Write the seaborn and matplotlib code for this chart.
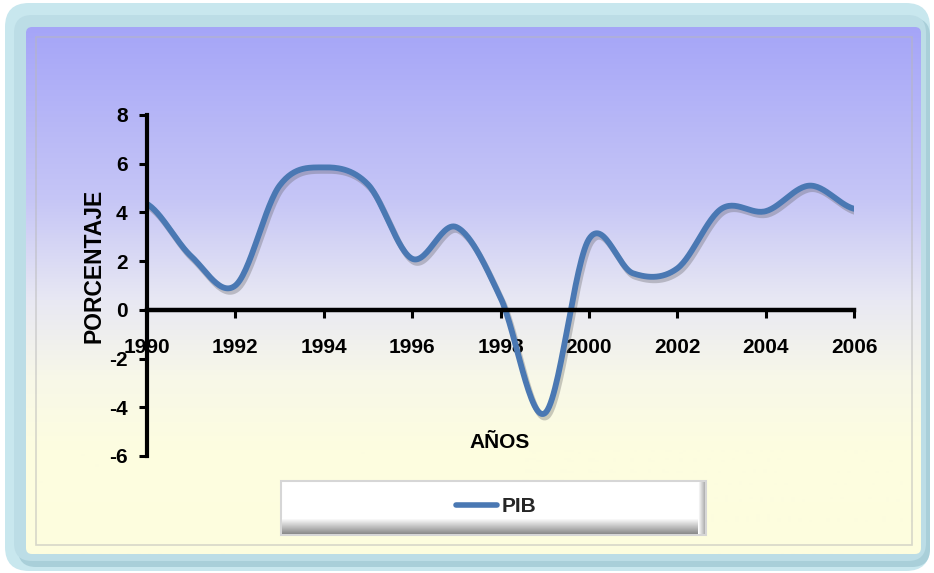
import numpy as np
import pandas as pd
import matplotlib
matplotlib.use("Agg")
import matplotlib.pyplot as plt
import seaborn as sns
from matplotlib.patches import FancyBboxPatch, Rectangle
import matplotlib.patheffects as pe

# ---------------- data ----------------
years = [1990, 1991, 1992, 1993, 1994, 1995, 1996, 1997, 1998,
         1999, 2000, 2001, 2002, 2003, 2004, 2005, 2006]
pib = [4.35, 2.2, 1.0, 5.1, 5.85, 5.15, 2.1, 3.4, 0.5,
       -4.25, 2.9, 1.5, 1.7, 4.15, 4.05, 5.1, 4.15]
series_name = "PIB"
x_ticks = [1990, 1992, 1994, 1996, 1998, 2000, 2002, 2004, 2006]
x_tick_labels = ["1990", "1992", "1994", "1996", "1998", "2000", "2002", "2004", "2006"]
y_ticks = [-6, -4, -2, 0, 2, 4, 6, 8]
y_tick_labels = ["-6", "-4", "-2", "0", "2", "4", "6", "8"]
x_title = "AÑOS"
y_title = "PORCENTAJE"


def smoothed(x, y, n=30):
    """Spreadsheet-style smoothed line (Catmull-Rom) through the data points."""
    x = np.asarray(x, float)
    y = np.asarray(y, float)
    px = np.concatenate([[x[0]], x, [x[-1]]])
    py = np.concatenate([[y[0]], y, [y[-1]]])
    xs, ys = [], []
    for i in range(1, len(px) - 2):
        x0, x1 = px[i], px[i + 1]
        m0 = (py[i + 1] - py[i - 1]) / 2
        m1 = (py[i + 2] - py[i]) / 2
        t = np.linspace(0, 1, n, endpoint=(i == len(px) - 3))
        h00 = 2 * t**3 - 3 * t**2 + 1
        h10 = t**3 - 2 * t**2 + t
        h01 = -2 * t**3 + 3 * t**2
        h11 = t**3 - t**2
        xs.append(x0 + t * (x1 - x0))
        ys.append(h00 * py[i] + h10 * m0 + h01 * py[i + 1] + h11 * m1)
    return np.concatenate(xs), np.concatenate(ys)


sx, sy = smoothed(years, pib)
df = pd.DataFrame({"Año": sx, "Valor": sy, "Serie": series_name})

# ---------------- figure ----------------
sns.set_theme(style="white")
plt.rcParams["font.family"] = ["Liberation Sans", "DejaVu Sans"]
plt.rcParams["font.weight"] = "bold"

W, H = 934, 573
fig = plt.figure(figsize=(W / 100, H / 100), dpi=100)
fig.patch.set_facecolor("white")

# background frame
bg = fig.add_axes([0, 0, 1, 1], zorder=0)
bg.set_xlim(0, W)
bg.set_ylim(H, 0)
bg.axis("off")

bg.add_patch(FancyBboxPatch((5, 3), 925, 568,
                            boxstyle="round,pad=0,rounding_size=24",
                            fc="#c8e7ee", ec="none"))
bg.add_patch(FancyBboxPatch((18, 18), 912, 549,
                            boxstyle="round,pad=0,rounding_size=18",
                            fc="#a9cfd9", ec="none"))
bg.add_patch(FancyBboxPatch((14, 15), 912, 546,
                            boxstyle="round,pad=0,rounding_size=18",
                            fc="#bcdde6", ec="none"))
panel = FancyBboxPatch((26, 27), 895, 527,
                       boxstyle="round,pad=0,rounding_size=6",
                       fc="none", ec="none")
bg.add_patch(panel)

stops_y = [27, 200, 300, 380, 450, 554]
stops_c = np.array([[165, 165, 248], [198, 198, 246], [232, 232, 243],
                    [248, 248, 232], [253, 253, 224], [253, 253, 222]]) / 255.0
yy = np.arange(27, 555)
grad = np.stack([np.interp(yy, stops_y, stops_c[:, k]) for k in range(3)], axis=-1)
grad = grad[:, None, :]
im = bg.imshow(grad, extent=(26, 921, 554, 27), aspect="auto", zorder=1)
im.set_clip_path(panel)

bg.add_patch(Rectangle((36, 37), 876, 508, fc="none",
                       ec=(0.72, 0.72, 0.72, 0.55), lw=1.2, zorder=2))

# legend box
bg.add_patch(Rectangle((281, 481), 425, 54, fc="white", ec="#d6d6d6", lw=1.5, zorder=3))
shade_b = np.linspace(1.0, 0.55, 16)[:, None] * np.ones((1, 10))
bg.imshow(np.dstack([shade_b] * 3), extent=(282, 705, 534, 518), aspect="auto", zorder=4)
shade_r = np.linspace(1.0, 0.7, 8)[None, :] * np.ones((10, 1))
bg.imshow(np.dstack([shade_r] * 3), extent=(698, 705, 534, 482), aspect="auto", zorder=4)
bg.set_xlim(0, W)
bg.set_ylim(H, 0)

# main axes
ax = fig.add_axes([147 / W, 1 - 456 / H, 707 / W, 341 / H], zorder=2)
ax.set_facecolor("none")

line_color = "#4a78b3"
sns.lineplot(data=df, x="Año", y="Valor", hue="Serie", palette=[line_color],
             ax=ax, lw=4.2, sort=False, estimator=None,
             path_effects=[pe.SimpleLineShadow(offset=(1.5, -2.5), shadow_color="#555555", alpha=0.3),
                           pe.Normal()])

ax.set_xlim(1990, 2006)
ax.set_ylim(-6, 8)
ax.set_xticks(x_ticks)
ax.set_xticklabels(x_tick_labels)
ax.set_yticks(y_ticks)
ax.set_yticklabels(y_tick_labels)

for s in ["top", "right"]:
    ax.spines[s].set_visible(False)
ax.spines["bottom"].set_position(("data", 0))
ax.spines["bottom"].set_linewidth(3.2)
ax.spines["left"].set_linewidth(3.0)
ax.spines["bottom"].set_color("black")
ax.spines["left"].set_color("black")
ax.spines["left"].set_bounds(-6, 8)

ax.tick_params(axis="x", direction="out", length=6, width=2.2, pad=14,
               labelsize=15, colors="black", bottom=True)
ax.tick_params(axis="y", direction="out", length=6, width=2.2, pad=8,
               labelsize=15, colors="black", left=True)
for lab in ax.get_xticklabels() + ax.get_yticklabels():
    lab.set_fontweight("bold")

ax.set_xlabel("")
ax.set_ylabel("")
fig.text(500 / W, 1 - 442 / H, x_title, ha="center", va="center",
         fontsize=15, fontweight="bold", color="black")
fig.text(94 / W, 1 - 266 / H, y_title, ha="center", va="center", rotation=90,
         fontsize=16.5, fontweight="bold", color="black")

leg = ax.legend(loc="center", bbox_to_anchor=(496 / W, 1 - 507 / H),
                bbox_transform=fig.transFigure, frameon=False,
                handlelength=2.0, handletextpad=0.2,
                prop={"size": 15, "weight": "bold"})
for h in leg.get_lines():
    h.set_linewidth(4)
    h.set_path_effects([])

fig.savefig("out.png", dpi=100)
